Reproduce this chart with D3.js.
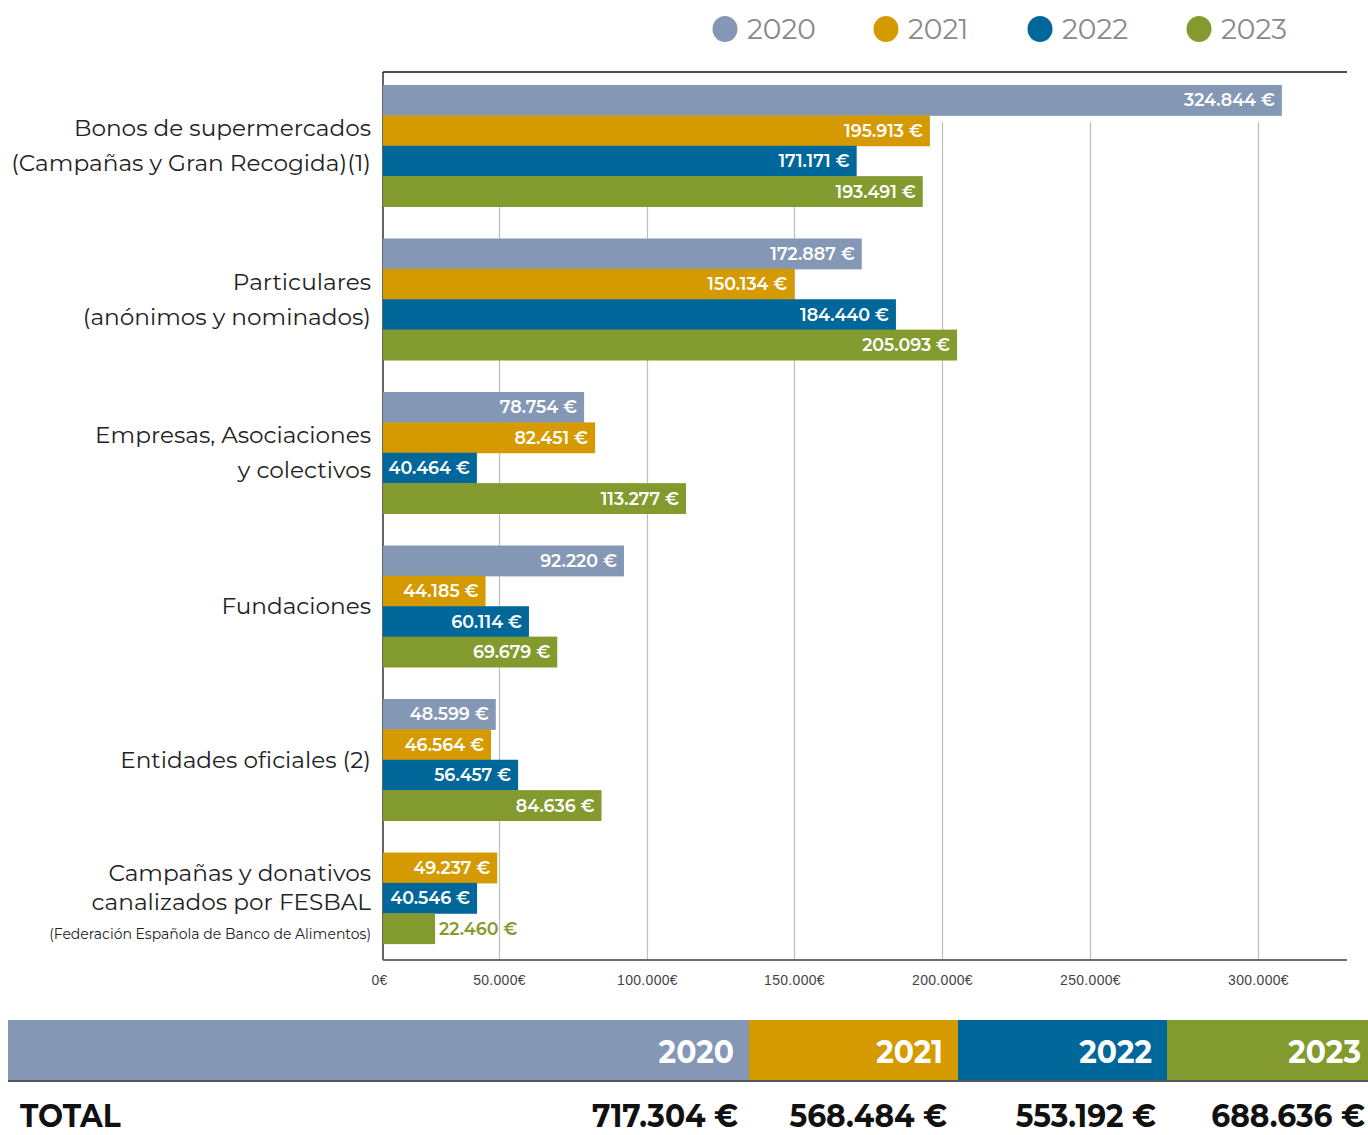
<!DOCTYPE html>
<html>
<head>
  <meta charset="utf-8">
  <script src="https://d3js.org/d3.v7.min.js"></script>
  <style>
    body { margin: 0; background: #fff; }
    svg { display: block; font-family: "Montserrat", "DejaVu Sans", sans-serif; }
  </style>
</head>
<body>
<div id="chart"></div>
<script>

    // data
    const categories = [
        ["Bonos de supermercados", "(Campañas y Gran Recogida)(1)"],
        ["Particulares", "(anónimos y nominados)"],
        ["Empresas, Asociaciones", "y colectivos"],
        ["Fundaciones"],
        ["Entidades oficiales (2)"],
        ["Campañas y donativos", "canalizados por FESBAL", "(Federación Española de Banco de Alimentos)"]
    ]
    const years = ["2020", "2021", "2022", "2023"]
    const v2020 = [324844, 172887, 78754, 92220, 48599, null]
    const v2021 = [195913, 150134, 82451, 44185, 46564, 49237]
    const v2022 = [171171, 184440, 40464, 60114, 56457, 40546]
    const v2023 = [193491, 205093, 113277, 69679, 84636, 22460]
    const totals = [717304, 568484, 553192, 688636]
    const tickValues = [0, 50000, 100000, 150000, 200000, 250000, 300000]

    const colors = ["#8498b6", "#d59a00", "#00679b", "#839b2e"]
    const series = [v2020, v2021, v2022, v2023]

    const es = d3.formatLocale({ decimal: ",", thousands: ".", grouping: [3], currency: ["", "€"] })
    const fmt = es.format(",d")

    const width = 1368, height = 1135
    const plotL = 383, plotR = 1347, plotT = 72, axisY = 960

    const svg = d3.select("#chart").append("svg")
        .attr("width", width)
        .attr("height", height)

    // x scale follows the printed axis (its ticks are not evenly spaced)
    const x = d3.scaleLinear()
        .domain([0, 50000, 100000, 150000, 200000, 250000, 300000, 350000])
        .range([plotL, 499, 647, 794, 942, 1090, 1258, 1306])

    const y = d3.scaleBand()
        .domain(d3.range(categories.length))
        .range([85, 974])
        .paddingInner(0.2085)

    const barH = y.bandwidth() / 4

    // grid
    svg.append("g")
        .attr("transform", `translate(0,${axisY})`)
        .call(d3.axisBottom(x).tickValues(tickValues.slice(1)).tickSize(-(axisY - 122)).tickFormat(""))
        .call(g => g.select(".domain").remove())
        .call(g => g.selectAll("line").attr("stroke", "#bdbdbd").attr("stroke-width", 1.2))

    // frame lines
    svg.append("line").attr("x1", plotL).attr("x2", plotR).attr("y1", plotT).attr("y2", plotT)
        .attr("stroke", "#111").attr("stroke-width", 1.3)
    svg.append("line").attr("x1", plotL).attr("x2", plotL).attr("y1", plotT).attr("y2", axisY)
        .attr("stroke", "#111").attr("stroke-width", 1.3)

    // bars
    const rows = categories.map((c, i) => {
        const present = years.map((yr, k) => ({ year: yr, k: k, value: series[k][i] }))
            .filter(d => d.value != null)
        const inner = d3.scaleBand().domain(present.map(d => d.year)).range([0, barH * present.length])
        present.forEach(d => { d.y = y(i) + inner(d.year); d.h = inner.bandwidth() })
        return { i: i, label: c, bars: present, center: y(i) + barH * present.length / 2 }
    })

    const bars = rows.flatMap(r => r.bars)

    svg.append("g").selectAll("rect")
        .data(bars).enter()
        .append("rect")
        .attr("x", x(0))
        .attr("y", d => d.y)
        .attr("width", d => x(d.value) - x(0))
        .attr("height", d => d.h + 0.5)
        .attr("fill", d => colors[d.k])

    svg.append("g").selectAll("text")
        .data(bars).enter()
        .append("text")
        .attr("x", d => d.value < 30000 ? x(d.value) + 4 : x(d.value) - 7)
        .attr("y", d => d.y + d.h / 2)
        .attr("dy", "0.36em")
        .attr("text-anchor", d => d.value < 30000 ? "start" : "end")
        .attr("font-size", 17.5)
        .attr("font-weight", 600)
        .attr("fill", d => d.value < 30000 ? colors[d.k] : "#fff")
        .text(d => fmt(d.value) + " €")

    // category labels
    const labels = svg.append("g").selectAll("text")
        .data(rows).enter()
        .append("text")
        .attr("text-anchor", "end")
        .attr("fill", "#222")
        .attr("font-size", 23.2)

    labels.each(function(r) {
        const t = d3.select(this)
        const n = r.label.length
        r.label.forEach((line, j) => {
            t.append("tspan")
                .attr("x", 371)
                .attr("y", r.center + (j - (n - 1) / 2) * (n == 3 ? 29 : 35) + (n == 3 ? 12 : 8))
                .attr("font-size", j == 2 ? 14 : null)
                .text(line)
        })
    })

    // x axis
    svg.append("g")
        .attr("transform", `translate(0,${axisY})`)
        .call(d3.axisBottom(x).tickValues(tickValues).tickSize(0).tickPadding(15).tickFormat(d => fmt(d) + "€"))
        .call(g => g.select(".domain").attr("d", `M${plotL},0H${plotR}`).attr("stroke", "#6d6d6d").attr("stroke-width", 2))
        .call(g => g.selectAll("text").attr("font-size", 14).attr("letter-spacing", 0.3).attr("fill", "#444")
            .attr("font-family", "inherit").attr("dx", d => d == 0 ? -4 : 0))

    // legend
    const lg = svg.append("g").selectAll("g")
        .data(years).enter()
        .append("g")
        .attr("transform", (d, i) => `translate(${[725, 886, 1040, 1199][i]},29)`)
    lg.append("ellipse").attr("rx", 12.5).attr("ry", 13).attr("fill", (d, i) => colors[i])
    lg.append("text").attr("x", 22).attr("dy", "0.36em")
        .attr("font-size", 28).attr("fill", "#8a8a8a").text(d => d)

    // totals strip
    const tx = d3.scaleBand().domain(years).range([540, 1376])
    const strip = svg.append("g")
    strip.selectAll("rect")
        .data(years).enter()
        .append("rect")
        .attr("x", (d, i) => i == 0 ? 8 : tx(d))
        .attr("width", (d, i) => i == 0 ? tx(d) + tx.bandwidth() - 8 : tx.bandwidth())
        .attr("y", 1020)
        .attr("height", 60)
        .attr("fill", (d, i) => colors[i])
    strip.append("line").attr("x1", 8).attr("x2", width).attr("y1", 1081).attr("y2", 1081)
        .attr("stroke", "#50565e").attr("stroke-width", 2)
    strip.selectAll("text.yr")
        .data(years).enter()
        .append("text")
        .attr("class", "yr")
        .attr("transform", d => `translate(${tx(d) + tx.bandwidth() - 15},1051) scale(0.93,1)`)
        .attr("dy", "0.36em")
        .attr("text-anchor", "end")
        .attr("font-size", 32)
        .attr("font-weight", "bold")
        .attr("fill", "#fff")
        .text(d => d)

    strip.append("text")
        .attr("transform", "translate(20,1127) scale(0.9,1)")
        .attr("font-size", 33).attr("font-weight", "bold").attr("fill", "#111")
        .text("TOTAL")
    strip.selectAll("text.tot")
        .data(totals).enter()
        .append("text")
        .attr("class", "tot")
        .attr("transform", (d, i) => `translate(${tx(years[i]) + tx.bandwidth() - 11},1127) scale(0.9,1)`)
        .attr("text-anchor", "end")
        .attr("font-size", 33)
        .attr("font-weight", "bold")
        .attr("fill", "#111")
        .text(d => fmt(d) + " €")

</script>
</body>
</html>
